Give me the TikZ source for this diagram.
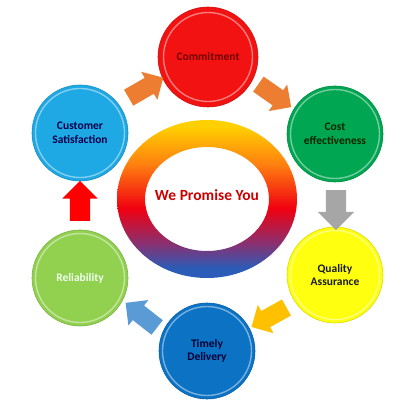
\documentclass[tikz,border=0pt]{standalone}
\usepackage{fontspec}
\setmainfont{Carlito}
\usetikzlibrary{shapes.arrows}
\definecolor{cRed}{HTML}{F21212}
\definecolor{cSky}{HTML}{1EA8E4}
\definecolor{cGreen}{HTML}{00A651}
\definecolor{cYellow}{HTML}{FFFF10}
\definecolor{cLime}{HTML}{92D050}
\definecolor{cBlue}{HTML}{0C72C4}
\definecolor{aOrange}{HTML}{ED7D31}
\definecolor{aYellow}{HTML}{FFC000}
\definecolor{aBlue}{HTML}{5B9BD5}
\definecolor{aGray}{HTML}{A6A6A6}
\definecolor{ringBlue}{HTML}{2A5CB8}
\definecolor{ringPurple}{HTML}{8A3070}
\definecolor{ringRed}{HTML}{F00010}
\definecolor{ringOrange}{HTML}{FF8010}
\definecolor{ringYellow}{HTML}{FFD000}
\pgfdeclareverticalshading{ringshade}{100bp}{color(0bp)=(ringBlue); color(28bp)=(ringBlue); color(36bp)=(ringPurple); color(47bp)=(ringRed); color(61bp)=(ringOrange); color(73bp)=(ringYellow); color(100bp)=(ringYellow)}
\tikzset{
  bubble/.style={circle, minimum size=96pt, inner sep=0pt, fill=#1, draw=#1!85!black, line width=0.6pt,
    align=center, font=\fontsize{11.5}{13.5}\selectfont\bfseries,
    path picture={\draw[white, opacity=0.45, line width=1.4pt] (path picture bounding box.center) circle (44.5pt);}},
  barrow/.style={single arrow, minimum height=40pt, minimum width=32pt, single arrow head extend=7pt,
    inner xsep=0pt, inner ysep=9pt, fill=#1, draw=none},
}
\begin{document}
\begin{tikzpicture}[x=1pt,y=1pt]
\useasboundingbox (0,0) rectangle (405,413);
% central ring
\shade[shading=ringshade, even odd rule] (207,214) ellipse [x radius=90, y radius=79] (207,214) ellipse [x radius=62, y radius=52];
\node[font=\fontsize{15.5}{17}\selectfont\bfseries, text=red!80!black] (promise) at (207,218) {We Promise You};
% circles
\node[bubble=cRed, minimum size=100pt, text=red!45!black] (commit) at (208,356) {Commitment};
\node[bubble=cSky, text=blue!30!black] (cust) at (80,280) {Customer\\Satisfaction};
\node[bubble=cGreen, text=green!15!black] (cost) at (335,279) {Cost\\effectiveness};
\node[bubble=cYellow, text=black!90] (quality) at (335,138) {Quality\\Assurance};
\node[bubble=cLime, text=green!6!white] (reli) at (80,135) {Reliability};
\node[bubble=cBlue, text=blue!20!black] (timely) at (207,62) {Timely\\Delivery};
% arrows
\node[barrow=aOrange, rotate=30] (a1) at (142,323) {};
\node[barrow=aOrange, rotate=-35] (a2) at (271,320) {};
\node[barrow=aGray, rotate=-90, minimum width=36pt, inner ysep=10pt, single arrow head extend=8pt] (a3) at (336,208) {};
\node[barrow=aYellow, rotate=209] (a4) at (273,98) {};
\node[barrow=aBlue, rotate=142] (a5) at (145,95) {};
\node[barrow=red, rotate=90, minimum width=35pt, inner ysep=10pt, single arrow head extend=7.5pt] (a6) at (80,207) {};
\end{tikzpicture}
\end{document}
